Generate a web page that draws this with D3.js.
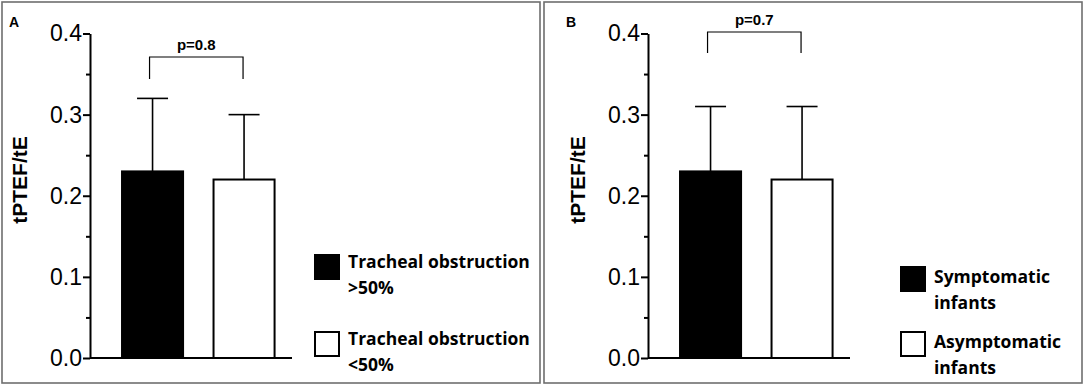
<!DOCTYPE html>
<html lang="en">
<head>
<meta charset="utf-8">
<title>tPTEF/tE bar charts</title>
<script src="https://d3js.org/d3.v7.min.js"></script>
<style>
  body { margin: 0; background: #fff; }
  svg { display: block; }
</style>
</head>
<body>
<div id="chart"></div>
<script>
// Data
const groupsA = ["Tracheal obstruction >50%", "Tracheal obstruction <50%"];
const meansA = [0.23, 0.22];
const errorsA = [0.09, 0.08];
const pValueA = "p=0.8";
const legendA = [["Tracheal obstruction", ">50%"], ["Tracheal obstruction", "<50%"]];

const groupsB = ["Symptomatic infants", "Asymptomatic infants"];
const meansB = [0.23, 0.22];
const errorsB = [0.08, 0.09];
const pValueB = "p=0.7";
const legendB = [["Symptomatic", "infants"], ["Asymptomatic", "infants"]];

const barFills = ["#000", "#fff"];
const majorTicks = [0, 0.1, 0.2, 0.3, 0.4];
const minorTicks = [0.05, 0.15, 0.25, 0.35];
const yTitle = "tPTEF/tE";

// Canvas
const width = 1084, height = 386;
const svg = d3.select("#chart").append("svg")
    .attr("width", width)
    .attr("height", height);

const y = d3.scaleLinear().domain([0, 0.4]).range([358, 33.5]);

function drawPanel(opt) {
    // panel frame
    svg.append("rect")
        .attr("x", opt.box[0]).attr("y", 2)
        .attr("width", opt.box[1] - opt.box[0]).attr("height", 381)
        .attr("fill", "none").attr("stroke", "#6e6e6e").attr("stroke-width", 1.6);

    svg.append("text")
        .attr("x", opt.letterX).attr("y", 27)
        .attr("font-family", "Liberation Sans, Arial, sans-serif")
        .attr("font-weight", "bold").attr("font-size", 14)
        .text(opt.letter);

    const g = svg.append("g");
    const x0 = opt.axisX;

    const x = d3.scaleBand()
        .domain(opt.groups)
        .range([x0, x0 + 216.6])
        .paddingInner(0.333)
        .paddingOuter(0.35);

    // bars
    g.selectAll("rect.bar")
        .data(opt.groups)
        .join("rect")
        .attr("class", "bar")
        .attr("x", d => x(d))
        .attr("y", (d, i) => y(opt.means[i]))
        .attr("width", x.bandwidth())
        .attr("height", (d, i) => y(0) - y(opt.means[i]))
        .attr("fill", (d, i) => barFills[i])
        .attr("stroke", "#000")
        .attr("stroke-width", 2);

    // error bars (upper only)
    opt.groups.forEach((d, i) => {
        const cx = x(d) + x.bandwidth() / 2;
        const top = y(opt.means[i] + opt.errors[i]);
        g.append("line")
            .attr("x1", cx).attr("x2", cx)
            .attr("y1", y(opt.means[i])).attr("y2", top)
            .attr("stroke", "#000").attr("stroke-width", 1.6);
        g.append("line")
            .attr("x1", cx - 15.5).attr("x2", cx + 15.5)
            .attr("y1", top).attr("y2", top)
            .attr("stroke", "#000").attr("stroke-width", 1.6);
    });

    // y axis
    const axis = g.append("g")
        .attr("transform", `translate(${x0},0)`)
        .call(d3.axisLeft(y).tickValues(majorTicks).tickFormat(d3.format(".1f"))
            .tickSize(7).tickSizeOuter(0).tickPadding(1));
    axis.select(".domain").attr("stroke-width", 2);
    axis.selectAll(".tick line").attr("stroke-width", 2);
    axis.selectAll(".tick text")
        .attr("font-family", "Liberation Sans, Arial, sans-serif")
        .attr("font-size", 23).attr("fill", "#000");

    g.append("g")
        .attr("transform", `translate(${x0},0)`)
        .call(d3.axisLeft(y).tickValues(minorTicks).tickSize(4).tickFormat(""))
        .call(s => s.select(".domain").remove())
        .selectAll(".tick line").attr("stroke-width", 2);

    // x axis baseline
    g.append("line")
        .attr("x1", x0).attr("x2", x0 + opt.axisLen)
        .attr("y1", y(0)).attr("y2", y(0))
        .attr("stroke", "#000").attr("stroke-width", 2);

    // y title
    g.append("text")
        .attr("transform", `translate(${opt.titleX},${opt.titleY}) rotate(-90)`)
        .attr("text-anchor", "middle")
        .attr("font-family", "Liberation Sans, Arial, sans-serif")
        .attr("font-weight", "bold").attr("font-size", 21)
        .text(yTitle);

    // significance bracket
    const c1 = x(opt.groups[0]) + x.bandwidth() / 2 - 3;
    const c2 = x(opt.groups[1]) + x.bandwidth() / 2 - 1;
    g.append("path")
        .attr("d", `M${c1},${opt.bracket[1]}V${opt.bracket[0]}H${c2}V${opt.bracket[1]}`)
        .attr("fill", "none").attr("stroke", "#000").attr("stroke-width", 1.2);
    g.append("text")
        .attr("x", (c1 + c2) / 2).attr("y", opt.bracket[0] - 7)
        .attr("text-anchor", "middle")
        .attr("font-family", "Liberation Sans, Arial, sans-serif")
        .attr("font-weight", "bold").attr("font-size", 15)
        .text(opt.p);

    // legend
    const lg = svg.append("g");
    opt.legend.forEach((lines, i) => {
        const ly = opt.legendY[i];
        lg.append("rect")
            .attr("x", opt.legendX).attr("y", ly)
            .attr("width", 24).attr("height", 24)
            .attr("fill", barFills[i]).attr("stroke", "#000").attr("stroke-width", 2);
        const t = lg.append("text")
            .attr("x", opt.legendX + 33).attr("y", ly + opt.textDy)
            .attr("font-family", "'Open Sans', sans-serif")
            .attr("font-weight", "bold").attr("font-size", 17.5);
        lines.forEach((ln, j) => {
            t.append("tspan").attr("x", opt.legendX + 33).attr("dy", j ? 26 : 0).text(ln);
        });
    });
}

drawPanel({
    box: [2, 540], letter: "A", letterX: 9, axisX: 90, axisLen: 202,
    groups: groupsA, means: meansA, errors: errorsA, p: pValueA,
    titleX: 27, titleY: 180, bracket: [57, 79],
    legend: legendA, legendX: 315, legendY: [255, 332], textDy: 13
});

drawPanel({
    box: [544, 1082], letter: "B", letterX: 566, axisX: 648, axisLen: 202,
    groups: groupsB, means: meansB, errors: errorsB, p: pValueB,
    titleX: 585, titleY: 180, bracket: [32, 53],
    legend: legendB, legendX: 901, legendY: [267, 332], textDy: 16
});
</script>
</body>
</html>
